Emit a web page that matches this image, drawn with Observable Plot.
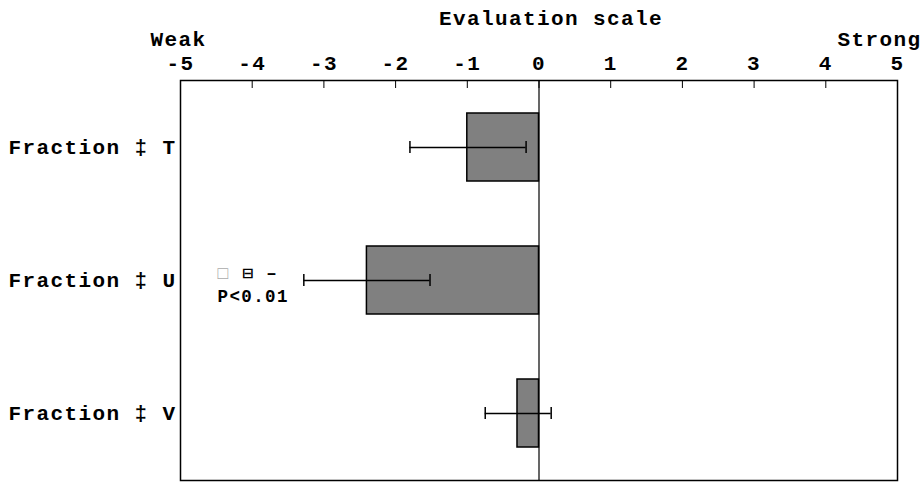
<!DOCTYPE html>
<html>
<head>
<meta charset="utf-8">
<script src="https://cdn.jsdelivr.net/npm/d3@7"></script>
<script src="https://cdn.jsdelivr.net/npm/@observablehq/plot@0.6"></script>
<style>
  html, body { margin: 0; padding: 0; background: white; }
  svg text { letter-spacing: 1.4px; }
</style>
</head>
<body>
<div id="chart"></div>
<script>
const categories = ["T", "U", "V"];
const categoryLabels = ["Fraction \u2021 T", "Fraction \u2021 U", "Fraction \u2021 V"];
const means = [-1.0, -2.4, -0.3];
const lows = [-1.8, -3.28, -0.75];
const highs = [-0.18, -1.52, 0.17];
const tickValues = [-5, -4, -3, -2, -1, 0, 1, 2, 3, 4, 5];
const axisTitle = "Evaluation scale";
const leftEndLabel = "Weak";
const rightEndLabel = "Strong";
const annotCategory = "U";
const annotSymbol1 = "\u25A1";
const annotSymbol2 = "\u229F \u2013";
const annotP = "P<0.01";

const data = categories.map((c, i) => ({cat: c, mean: means[i], lo: lows[i], hi: highs[i]}));
const labelOf = Object.fromEntries(categories.map((c, i) => [c, categoryLabels[i]]));

const font = "'Liberation Mono', 'Courier New', monospace";

const chart = Plot.plot({
  width: 922,
  height: 482,
  marginLeft: 180,
  marginRight: 25,
  marginTop: 80,
  marginBottom: 2,
  style: {fontFamily: font, fontWeight: "bold", fontSize: "21px", background: "white", color: "black"},
  x: {domain: [-5, 5], axis: null},
  y: {domain: categories, paddingInner: 0.49, paddingOuter: 0.245, axis: null},
  marks: [
    Plot.barX(data, {x: "mean", y: "cat", fill: "#808080", stroke: "black", strokeWidth: 1.5}),
    Plot.ruleX([0], {stroke: "black", strokeWidth: 1.2}),
    Plot.ruleY(data, {x1: "lo", x2: "hi", y: "cat", stroke: "black", strokeWidth: 1.5}),
    Plot.tickX(data, {x: "lo", y: "cat", stroke: "black", strokeWidth: 1.5, insetTop: 28, insetBottom: 28}),
    Plot.tickX(data, {x: "hi", y: "cat", stroke: "black", strokeWidth: 1.5, insetTop: 28, insetBottom: 28}),
    Plot.ruleX(tickValues, {stroke: "black", strokeWidth: 1, insetBottom: 392}),
    Plot.frame({stroke: "black", strokeWidth: 1.5}),
    Plot.axisY({tickSize: 0, tickPadding: 4, tickFormat: (d) => labelOf[d], fontSize: 21, label: null}),
    Plot.text(tickValues, {x: (d) => d, frameAnchor: "top", dy: -25, text: (d) => String(d), fontSize: 21, textAnchor: "middle"}),
    Plot.text([leftEndLabel], {x: -5, frameAnchor: "top", dx: -30, dy: -49, text: (d) => d, fontSize: 21, textAnchor: "start"}),
    Plot.text([rightEndLabel], {x: 5, frameAnchor: "top", dx: 24, dy: -49, text: (d) => d, fontSize: 21, textAnchor: "end"}),
    Plot.text([axisTitle], {x: 0, frameAnchor: "top", dx: 12, dy: -70, text: (d) => d, fontSize: 21, textAnchor: "middle"}),
    Plot.text([annotSymbol1], {x: -5, y: () => annotCategory, dx: 37, dy: -7, text: (d) => d, fontSize: 17.5, textAnchor: "start", fill: "#aaaaaa", fontWeight: "normal"}),
    Plot.text([annotSymbol2], {x: -5, y: () => annotCategory, dx: 62, dy: -7, text: (d) => d, fontSize: 17.5, textAnchor: "start"}),
    Plot.text([annotP], {x: -5, y: () => annotCategory, dx: 37, dy: 16, text: (d) => d, fontSize: 17.5, textAnchor: "start"})
  ]
});
document.getElementById("chart").appendChild(chart);
</script>
</body>
</html>
